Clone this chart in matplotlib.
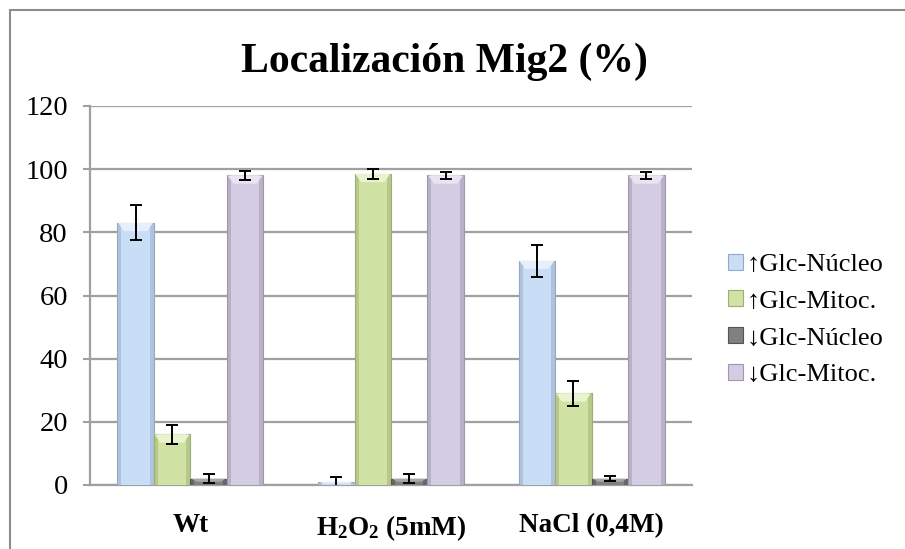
import matplotlib
matplotlib.use("Agg")
import matplotlib.pyplot as plt
from matplotlib.patches import Rectangle, Polygon, Patch
import numpy as np

categories = ["Wt", r"$\mathbf{H_2O_2}$ (5mM)", "NaCl (0,4M)"]
series = ["↑Glc-Núcleo", "↑Glc-Mitoc.", "↓Glc-Núcleo", "↓Glc-Mitoc."]
values = [
    [83.0, 1.0, 71.0],    # ↑Glc-Núcleo
    [16.0, 98.5, 29.0],   # ↑Glc-Mitoc.
    [2.0, 2.0, 2.0],      # ↓Glc-Núcleo
    [98.0, 98.0, 98.0],   # ↓Glc-Mitoc.
]
errors = [
    [5.5, 1.5, 5.0],
    [3.0, 1.5, 4.0],
    [1.5, 1.5, 0.7],
    [1.5, 1.2, 1.0],
]
yticks = [0, 20, 40, 60, 80, 100, 120]

main_colors = ["#C9DDF7", "#D1E2A5", "#808080", "#D3CCE3"]
side_colors = ["#AFC3DD", "#B7C88B", "#666666", "#B8B1C8"]
top_colors = ["#E6F0FD", "#EAF3CF", "#A6A6A6", "#E9E4F2"]
edge_colors = ["#94A8C4", "#9DAE72", "#555555", "#9E97AE"]

plt.rcParams['font.family'] = ['Liberation Serif', 'DejaVu Serif']
plt.rcParams['mathtext.fontset'] = 'custom'
plt.rcParams['mathtext.rm'] = 'Liberation Serif'
plt.rcParams['mathtext.bf'] = 'Liberation Serif:bold'

fig = plt.figure(figsize=(9.05, 5.49), dpi=100)
ax = fig.add_axes([90/905, 64/549, 602/905, 379/549])

n = len(series)
w = 1/5.5
x = np.arange(len(categories))
for j in range(n):
    pos = x + (j - (n - 1) / 2) * w
    vals = np.array(values[j])
    ax.bar(pos, vals, width=w, color=side_colors[j], edgecolor=edge_colors[j],
           linewidth=0.8, zorder=3)
    ax.bar(pos, vals, width=w * 0.78, color=main_colors[j], linewidth=0, zorder=3.1)
    for p, v in zip(pos, vals):
        h = min(2.6, v * 0.5)
        d = w * 0.18
        poly = Polygon([(p - w/2 + 0.004, v), (p + w/2 - 0.004, v),
                        (p + w/2 - d, v - h), (p - w/2 + d, v - h)],
                       closed=True, facecolor=top_colors[j], edgecolor='none', zorder=3.2)
        ax.add_patch(poly)
    ax.errorbar(pos, vals, yerr=errors[j], fmt='none', ecolor='black',
                elinewidth=1.4, capsize=4.5, capthick=1.4, zorder=4)

ax.set_xlim(-0.5, len(categories) - 0.5)
ax.set_ylim(0, 120)
ax.set_yticks(yticks)
ax.set_yticklabels([str(t) for t in yticks], fontsize=20.5)
ax.set_xticks(x)
ax.set_xticklabels(categories, fontsize=19.5, fontweight='bold')
ax.tick_params(axis='x', length=0, pad=20)
ax.tick_params(axis='y', length=5, width=1.5, color='#A0A0A0', pad=11)
ax.yaxis.grid(True, color='#A0A0A0', linewidth=1.6, zorder=0)
ax.set_axisbelow(True)
for s in ['top', 'right']:
    ax.spines[s].set_visible(False)
ax.spines['left'].set_color('#A0A0A0')
ax.spines['left'].set_linewidth(1.6)
ax.spines['bottom'].set_color('#A0A0A0')
ax.spines['bottom'].set_linewidth(1.6)

fig.text(444/905, 1 - 62/549, "Localización Mig2 (%)", ha='center', va='center',
         fontsize=30, fontweight='bold')

handles = [Patch(facecolor=main_colors[j], edgecolor=edge_colors[j], linewidth=0.8)
           for j in range(n)]
fig.legend(handles, series, loc='center left', bbox_to_anchor=(728/905, 1 - 320/549),
           frameon=False, fontsize=19, handlelength=0.55, handleheight=0.55,
           handletextpad=0.15, labelspacing=0.55, borderaxespad=0, borderpad=0)

border = Rectangle((10/905, -0.2), 1.2, 1 - 10/549 + 0.2, transform=fig.transFigure,
                   fill=False, edgecolor='#8C8C8C', linewidth=1.5)
fig.patches.append(border)

fig.savefig("out.png", dpi=100)
